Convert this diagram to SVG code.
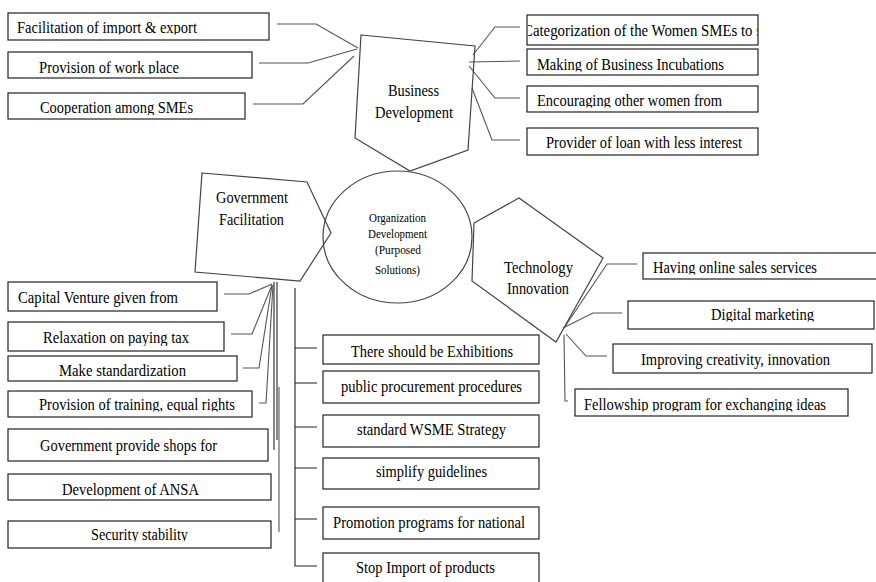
<svg xmlns="http://www.w3.org/2000/svg" width="876" height="582" viewBox="0 0 876 582">
<style>
.bg{fill:#fff}
.box{fill:#fff;stroke:#222;stroke-width:1.2}
.shape{fill:none;stroke:#444;stroke-width:1.2}
.ln{fill:none;stroke:#555;stroke-width:1.1}
.lk{fill:none;stroke:#222;stroke-width:1.1}
text{font-family:'Liberation Serif','Times New Roman',serif;font-size:16px;fill:#000}
.sm{font-size:12px}
</style>
<defs>
<clipPath id="cTL1"><rect x="9" y="14" width="259" height="20.5"/></clipPath>
<clipPath id="cTL2"><rect x="9" y="53" width="242" height="21"/></clipPath>
<clipPath id="cTL3"><rect x="9" y="94" width="235" height="21"/></clipPath>
<clipPath id="cTR1"><rect x="528" y="16" width="229.5" height="28"/></clipPath>
<clipPath id="cTR2"><rect x="528" y="50" width="229" height="21.5"/></clipPath>
<clipPath id="cTR3"><rect x="528" y="87" width="229" height="20.5"/></clipPath>
<clipPath id="cR1"><rect x="644" y="254" width="232" height="20.5"/></clipPath>
<clipPath id="cR2"><rect x="629" y="302" width="244" height="19.5"/></clipPath>
<clipPath id="cR4"><rect x="576" y="390" width="271" height="21.5"/></clipPath>
<clipPath id="cL2"><rect x="9" y="323" width="214" height="23"/></clipPath>
<clipPath id="cL4"><rect x="9" y="392" width="242" height="19.5"/></clipPath>
<clipPath id="cL6"><rect x="9" y="475" width="261" height="21.5"/></clipPath>
<clipPath id="cL7"><rect x="9" y="522" width="261" height="19.5"/></clipPath>
</defs>
<rect class="bg" x="0" y="0" width="876" height="582"/>

<g id="connectors">
<path class="ln" d="M277,24 H316 L358,48"/>
<path class="ln" d="M259,63 H308 L357,49"/>
<path class="ln" d="M253,104 H303 L354,56"/>
<path class="ln" d="M473,55 L495,27 H520"/>
<path class="ln" d="M469,62 L520,61"/>
<path class="ln" d="M469,66 L495,98 H520"/>
<path class="ln" d="M472,88 L492,140 H520"/>
<path class="ln" d="M564,328 L607,264 H637"/>
<path class="ln" d="M563,328 L593,313 H622"/>
<path class="ln" d="M566,334 L586,356 H607"/>
<path class="ln" d="M564,335 L565,401 H568"/>
<path class="ln" d="M224,294 H249 L272,284"/>
<path class="ln" d="M231,334 H252 L272,285"/>
<path class="ln" d="M243,368 H259 L272,285"/>
<path class="ln" d="M259,403 H266 L273,285"/>
<path class="lk" d="M274,282 V450"/>
<path class="lk" d="M277,282 V440"/>
<path class="ln" d="M279,387 V532"/>
<path class="lk" d="M295,288 V566 H317"/>
<path class="lk" d="M295,348 H317 M295,383 H317 M295,427 H317 M295,468 H317 M295,519 H317"/>
</g>

<g id="business-development">
<polygon class="shape" points="361,35 475,46 468,150 410,171 355,138"/>
<text x="388" y="96" textLength="51" lengthAdjust="spacingAndGlyphs">Business</text>
<text x="375" y="118" textLength="78" lengthAdjust="spacingAndGlyphs">Development</text>
</g>

<g id="organization-development">
<ellipse class="shape" cx="397.5" cy="237" rx="74.5" ry="66"/>
<text class="sm" x="369" y="222" textLength="57" lengthAdjust="spacingAndGlyphs">Organization</text>
<text class="sm" x="368" y="238" textLength="59" lengthAdjust="spacingAndGlyphs">Development</text>
<text class="sm" x="375" y="254" textLength="46" lengthAdjust="spacingAndGlyphs">(Purposed</text>
<text class="sm" x="375" y="274" textLength="45" lengthAdjust="spacingAndGlyphs">Solutions)</text>
</g>

<g id="government-facilitation">
<polygon class="shape" points="202,173 307,182 331,233 300,281 195,272"/>
<text x="216" y="203" textLength="72" lengthAdjust="spacingAndGlyphs">Government</text>
<text x="219" y="225" textLength="65" lengthAdjust="spacingAndGlyphs">Facilitation</text>
</g>

<g id="technology-innovation">
<polygon class="shape" points="474,223 519,198 603,258 556,342 472,281"/>
<text x="504" y="273" textLength="69" lengthAdjust="spacingAndGlyphs">Technology</text>
<text x="507" y="294" textLength="62" lengthAdjust="spacingAndGlyphs">Innovation</text>
</g>

<g id="tl1"><rect class="box" x="8" y="13" width="261" height="27"/><text clip-path="url(#cTL1)" x="17" y="33" textLength="180" lengthAdjust="spacingAndGlyphs">Facilitation of import &amp; export</text></g>
<g id="tl2"><rect class="box" x="8" y="52" width="244" height="26"/><text clip-path="url(#cTL2)" x="39" y="73" textLength="140" lengthAdjust="spacingAndGlyphs">Provision of work place</text></g>
<g id="tl3"><rect class="box" x="8" y="93" width="237" height="26"/><text clip-path="url(#cTL3)" x="40" y="113" textLength="153" lengthAdjust="spacingAndGlyphs">Cooperation among SMEs</text></g>

<g id="tr1"><rect class="box" x="527" y="15" width="231" height="30"/><text clip-path="url(#cTR1)" x="523" y="36" textLength="239" lengthAdjust="spacingAndGlyphs">Categorization of the Women SMEs to s</text></g>
<g id="tr2"><rect class="box" x="527" y="49" width="231" height="26"/><text clip-path="url(#cTR2)" x="537" y="70" textLength="187" lengthAdjust="spacingAndGlyphs">Making of Business Incubations</text></g>
<g id="tr3"><rect class="box" x="527" y="86" width="231" height="26"/><text clip-path="url(#cTR3)" x="537" y="106" textLength="185" lengthAdjust="spacingAndGlyphs">Encouraging other women from</text></g>
<g id="tr4"><rect class="box" x="527" y="128" width="231" height="27"/><text x="546" y="148" textLength="196" lengthAdjust="spacingAndGlyphs">Provider of loan with less interest</text></g>

<g id="r1"><rect class="box" x="643" y="253" width="240" height="26"/><text clip-path="url(#cR1)" x="653" y="273" textLength="164" lengthAdjust="spacingAndGlyphs">Having online sales services</text></g>
<g id="r2"><rect class="box" x="628" y="301" width="246" height="28"/><text clip-path="url(#cR2)" x="711" y="320" textLength="103" lengthAdjust="spacingAndGlyphs">Digital marketing</text></g>
<g id="r3"><rect class="box" x="613" y="344" width="259" height="29"/><text x="641" y="365" textLength="189" lengthAdjust="spacingAndGlyphs">Improving creativity, innovation</text></g>
<g id="r4"><rect class="box" x="575" y="389" width="273" height="27"/><text clip-path="url(#cR4)" x="584" y="410" textLength="242" lengthAdjust="spacingAndGlyphs">Fellowship program for exchanging ideas</text></g>

<g id="l1"><rect class="box" x="8" y="282" width="209" height="29"/><text x="18" y="303" textLength="160" lengthAdjust="spacingAndGlyphs">Capital Venture given from</text></g>
<g id="l2"><rect class="box" x="8" y="322" width="216" height="29"/><text clip-path="url(#cL2)" x="43" y="343" textLength="146" lengthAdjust="spacingAndGlyphs">Relaxation on paying tax</text></g>
<g id="l3"><rect class="box" x="8" y="356" width="229" height="25"/><text x="59" y="376" textLength="127" lengthAdjust="spacingAndGlyphs">Make standardization</text></g>
<g id="l4"><rect class="box" x="8" y="391" width="244" height="26"/><text clip-path="url(#cL4)" x="39" y="410" textLength="196" lengthAdjust="spacingAndGlyphs">Provision of training, equal rights</text></g>
<g id="l5"><rect class="box" x="8" y="429" width="260" height="32"/><text x="40" y="451" textLength="177" lengthAdjust="spacingAndGlyphs">Government provide shops for</text></g>
<g id="l6"><rect class="box" x="8" y="474" width="263" height="26"/><text clip-path="url(#cL6)" x="62" y="495" textLength="137" lengthAdjust="spacingAndGlyphs">Development of ANSA</text></g>
<g id="l7"><rect class="box" x="8" y="521" width="263" height="27"/><text clip-path="url(#cL7)" x="91" y="540" textLength="97" lengthAdjust="spacingAndGlyphs">Security stability</text></g>

<g id="m1"><rect class="box" x="323" y="335" width="216" height="29"/><text x="351" y="357" textLength="162" lengthAdjust="spacingAndGlyphs">There should be Exhibitions</text></g>
<g id="m2"><rect class="box" x="323" y="371" width="216" height="32"/><text x="341" y="392" textLength="181" lengthAdjust="spacingAndGlyphs">public procurement procedures</text></g>
<g id="m3"><rect class="box" x="323" y="415" width="216" height="32"/><text x="357" y="435" textLength="149" lengthAdjust="spacingAndGlyphs">standard WSME Strategy</text></g>
<g id="m4"><rect class="box" x="323" y="458" width="216" height="31"/><text x="376" y="477" textLength="111" lengthAdjust="spacingAndGlyphs">simplify guidelines</text></g>
<g id="m5"><rect class="box" x="323" y="507" width="216" height="32"/><text x="333" y="528" textLength="192" lengthAdjust="spacingAndGlyphs">Promotion programs for national</text></g>
<g id="m6"><rect class="box" x="323" y="553" width="216" height="40"/><text x="356" y="573" textLength="139" lengthAdjust="spacingAndGlyphs">Stop Import of products</text></g>
</svg>
